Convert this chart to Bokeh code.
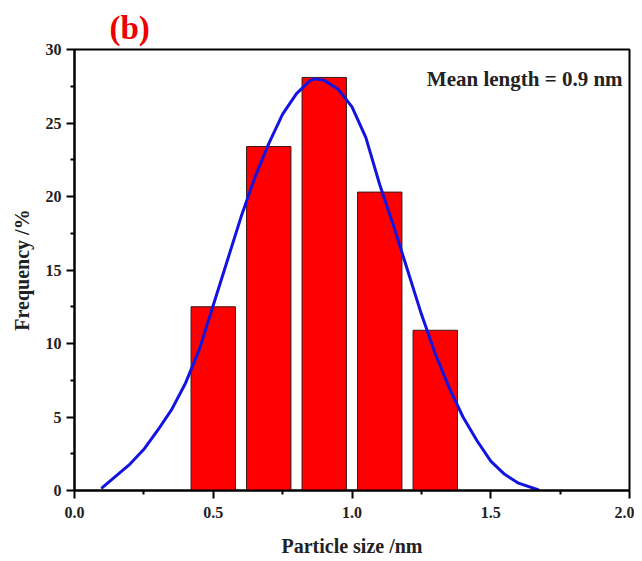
from bokeh.plotting import figure
from bokeh.models import Range1d, FixedTicker, Label, Title
from bokeh.embed import file_html
from bokeh.resources import INLINE

# ---- data ----
bin_centers = [0.5, 0.7, 0.9, 1.1, 1.3]
frequency = [12.5, 23.4, 28.1, 20.3, 10.9]
bar_width = 0.16

curve_x = [0.10, 0.15, 0.20, 0.25, 0.30, 0.35, 0.40, 0.45, 0.50, 0.55, 0.60,
           0.65, 0.70, 0.75, 0.80, 0.85, 0.87, 0.90, 0.95, 1.00, 1.05, 1.10,
           1.15, 1.20, 1.25, 1.30, 1.35, 1.40, 1.45, 1.50, 1.55, 1.60, 1.67]
curve_y = [0.2, 1.0, 1.8, 2.8, 4.1, 5.5, 7.3, 9.6, 12.6, 15.6, 18.6,
           21.3, 23.6, 25.6, 27.0, 27.9, 28.0, 27.9, 27.3, 26.1, 24.0, 20.8,
           18.0, 15.0, 12.0, 9.3, 7.0, 5.0, 3.4, 2.0, 1.1, 0.5, 0.05]

x_ticks = [0.0, 0.5, 1.0, 1.5, 2.0]
x_minor = [0.25, 0.75, 1.25, 1.75]
x_tick_labels = ["0.0", "0.5", "1.0", "1.5", "2.0"]
y_ticks = [0, 5, 10, 15, 20, 25, 30]
y_minor = [2.5, 7.5, 12.5, 17.5, 22.5, 27.5]

panel_label = "(b)"
annotation = "Mean length = 0.9 nm"
x_title = "Particle size /nm"
y_title = "Frequency /%"

FONT = "Liberation Serif"

p = figure(frame_width=555, frame_height=441, output_backend="svg",
           toolbar_location=None, x_range=Range1d(0, 2), y_range=Range1d(0, 30),
           min_border_left=74, min_border_right=5, min_border_top=49,
           min_border_bottom=70, title=None)
p.background_fill_color = "white"
p.border_fill_color = "white"
p.grid.visible = False
p.outline_line_color = "black"
p.outline_line_width = 2

p.add_layout(Title(text=panel_label, text_font=FONT, text_font_style="bold",
                   text_font_size="33px", text_color="#EE0000", align="left",
                   offset=35, standoff=7), "above")

p.vbar(x=bin_centers, top=frequency, bottom=0, width=bar_width,
       fill_color="#FF0000", line_color="#3a1a1a", line_width=1)
p.line(curve_x, curve_y, line_color="#1414E0", line_width=3,
       line_join="round", line_cap="round")

# axes
xa = p.xaxis[0]
xa.ticker = FixedTicker(ticks=x_ticks, minor_ticks=x_minor)
xa.major_label_overrides = {t: l for t, l in zip(x_ticks, x_tick_labels)}
ya = p.yaxis[0]
ya.ticker = FixedTicker(ticks=y_ticks, minor_ticks=y_minor)

for ax in (xa, ya):
    ax.axis_line_width = 2
    ax.axis_line_color = "black"
    ax.major_tick_line_width = 2
    ax.minor_tick_line_width = 2
    ax.major_tick_in = 0
    ax.minor_tick_in = 0
    ax.major_tick_out = 8
    ax.minor_tick_out = 4
    ax.major_label_text_font = FONT
    ax.major_label_text_font_style = "bold"
    ax.major_label_text_font_size = "16px"
    ax.major_label_text_color = "#222222"
    ax.axis_label_text_font = FONT
    ax.axis_label_text_font_style = "bold"
    ax.axis_label_text_font_size = "20px"
    ax.axis_label_text_color = "#222222"

xa.axis_label = x_title
xa.major_label_standoff = 8
xa.axis_label_standoff = 14
ya.axis_label = y_title
ya.major_label_standoff = 5
ya.axis_label_standoff = 10
ya.major_label_orientation = "horizontal"

p.add_layout(Label(x=1.975, y=28.0, text=annotation, text_font=FONT,
                   text_font_style="bold", text_font_size="21px",
                   text_color="#222222", text_align="right",
                   text_baseline="alphabetic"))

open("out.html", "w").write(file_html(p, INLINE))
